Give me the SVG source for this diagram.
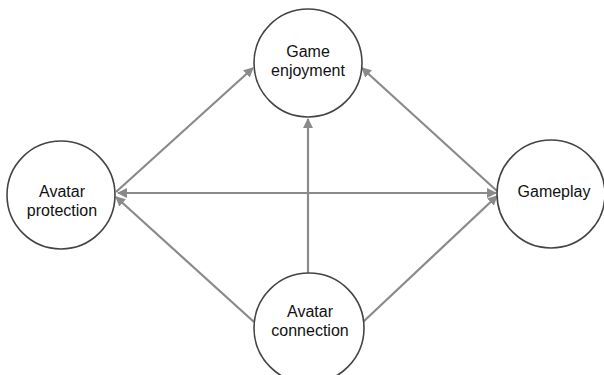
<svg xmlns="http://www.w3.org/2000/svg" width="604" height="375" viewBox="0 0 604 375">
<defs>
<style>
.node circle{fill:#fff;stroke:#444;stroke-width:1.6}
.node text{font-family:"Liberation Sans",Arial,sans-serif;font-size:16px;fill:#111;text-anchor:middle}
.edge{stroke:#8a8a8a;stroke-width:2.2;fill:none}
</style>
<marker id="ah" viewBox="0 0 10 10" refX="9" refY="5" markerWidth="4.5" markerHeight="4.5" orient="auto-start-reverse" markerUnits="strokeWidth">
<path d="M0,0 L10,5 L0,10 z" fill="#8a8a8a"/>
</marker>
</defs>
<rect width="604" height="375" fill="#fff"/>
<g id="connectors">
<line class="edge" x1="116" y1="192" x2="253" y2="68" marker-end="url(#ah)"/>
<line class="edge" x1="497" y1="191" x2="362" y2="68" marker-end="url(#ah)"/>
<line class="edge" x1="308" y1="273" x2="308" y2="119" marker-end="url(#ah)"/>
<line class="edge" x1="118" y1="193" x2="496" y2="193" marker-start="url(#ah)" marker-end="url(#ah)"/>
<line class="edge" x1="254" y1="322" x2="116" y2="197" marker-end="url(#ah)"/>
<line class="edge" x1="363" y1="322" x2="497" y2="196" marker-end="url(#ah)"/>
</g>
<g id="game-enjoyment" class="node">
<circle cx="308" cy="63" r="54"/>
<text x="308" y="57">Game</text>
<text x="308" y="76">enjoyment</text>
</g>
<g id="avatar-protection" class="node">
<circle cx="61" cy="195" r="54"/>
<text x="62" y="197">Avatar</text>
<text x="62" y="216">protection</text>
</g>
<g id="gameplay" class="node">
<circle cx="551" cy="194" r="54"/>
<text x="554" y="197">Gameplay</text>
</g>
<g id="avatar-connection" class="node">
<circle cx="309" cy="328" r="55"/>
<text x="310" y="317">Avatar</text>
<text x="310" y="336">connection</text>
</g>
</svg>
